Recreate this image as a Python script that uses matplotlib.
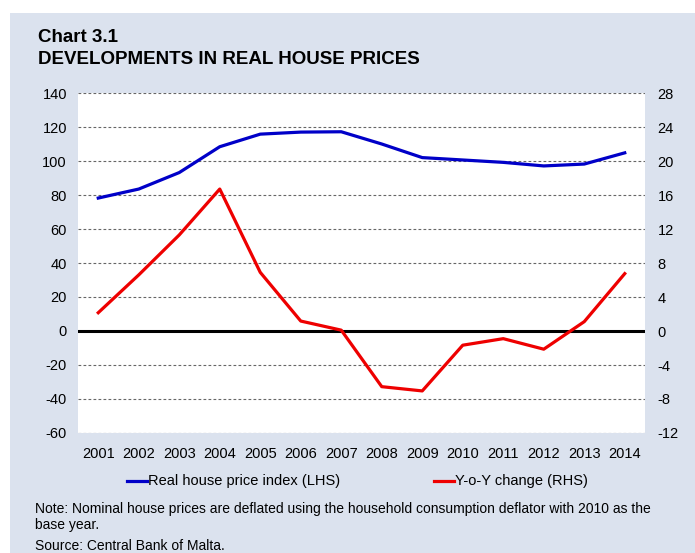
import numpy as np
import matplotlib
matplotlib.use("Agg")
import matplotlib.pyplot as plt
from matplotlib.patches import Rectangle
from matplotlib.lines import Line2D

plt.rcParams['font.family'] = ['Liberation Sans', 'DejaVu Sans']
plt.rcParams['axes.unicode_minus'] = False

# data
years = ['2001', '2002', '2003', '2004', '2005', '2006', '2007',
         '2008', '2009', '2010', '2011', '2012', '2013', '2014']
price_index = [78.2, 83.5, 93.2, 108.4, 115.8, 117.0, 117.2,
               110.0, 102.0, 100.6, 99.2, 97.1, 98.2, 104.8]
yoy_change = [2.15, 6.6, 11.3, 16.7, 6.9, 1.17, 0.1,
              -6.55, -7.05, -1.67, -0.9, -2.14, 1.1, 6.75]

left_ticks = [-60, -40, -20, 0, 20, 40, 60, 80, 100, 120, 140]
right_ticks = [-12, -8, -4, 0, 4, 8, 12, 16, 20, 24, 28]

W, H = 695, 553
fig = plt.figure(figsize=(W / 100, H / 100), dpi=100, facecolor='white')

# light blue panel behind everything
fig.patches.append(Rectangle((10 / W, 0), 1 - 10 / W, 1 - 13 / H,
                             transform=fig.transFigure, facecolor='#dbe2ee',
                             edgecolor='none', zorder=-10))

ax = fig.add_axes([78 / W, 1 - 433 / H, (645 - 78) / W, (433 - 93) / H])
ax.set_facecolor('white')
x = np.arange(len(years))

ax.set_xlim(-0.5, len(years) - 0.5)
ax.set_ylim(-60, 140)
ax.set_yticks(left_ticks)
ax.set_xticks(x)
ax.set_xticklabels(years)
ax.grid(axis='y', linestyle=(0, (2.5, 2)), color='#666666', linewidth=0.8)
ax.set_axisbelow(True)
ax.axhline(0, color='black', linewidth=2.2, zorder=2)
ax.plot(x, price_index, color='#0000c8', linewidth=2.3, zorder=3)

ax2 = ax.twinx()
ax2.set_ylim(-12, 28)
ax2.set_yticks(right_ticks)
ax2.plot(x, yoy_change, color='#ee0000', linewidth=2.3, zorder=3)

for a in (ax, ax2):
    for s in a.spines.values():
        s.set_visible(False)
ax2.patch.set_visible(False)

ax.tick_params(axis='y', length=0, pad=8, labelsize=10.5, colors='black')
ax.tick_params(axis='x', length=0, pad=10, labelsize=10.5, colors='black')
ax2.tick_params(axis='y', length=0, pad=9, labelsize=10.5, colors='black')

# titles
fig.text(38 / W, 1 - 42.5 / H, 'Chart 3.1', fontsize=13.5, fontweight='bold',
         va='baseline', ha='left')
fig.text(38 / W, 1 - 64 / H, 'DEVELOPMENTS IN REAL HOUSE PRICES', fontsize=13.5,
         fontweight='bold', va='baseline', ha='left')

# legend drawn by hand below the axis
fig.add_artist(Line2D([127 / W, 147 / W], [1 - 481 / H] * 2, color='#0000c8',
                      linewidth=2.3, transform=fig.transFigure))
fig.text(148.5 / W, 1 - 481.5 / H, 'Real house price index (LHS)', fontsize=10.5,
         va='center', ha='left')
fig.add_artist(Line2D([434 / W, 454 / W], [1 - 481 / H] * 2, color='#ee0000',
                      linewidth=2.3, transform=fig.transFigure))
fig.text(455 / W, 1 - 481.5 / H, 'Y-o-Y change (RHS)', fontsize=10.5,
         va='center', ha='left')

# notes
fig.text(35 / W, 1 - 509 / H,
         'Note: Nominal house prices are deflated using the household consumption deflator with 2010 as the',
         fontsize=10, va='center', ha='left')
fig.text(35 / W, 1 - 525 / H, 'base year.', fontsize=10, va='center', ha='left')
fig.text(35 / W, 1 - 545.5 / H, 'Source: Central Bank of Malta.', fontsize=10,
         va='center', ha='left')

fig.savefig('out.png', dpi=100, facecolor='white')
